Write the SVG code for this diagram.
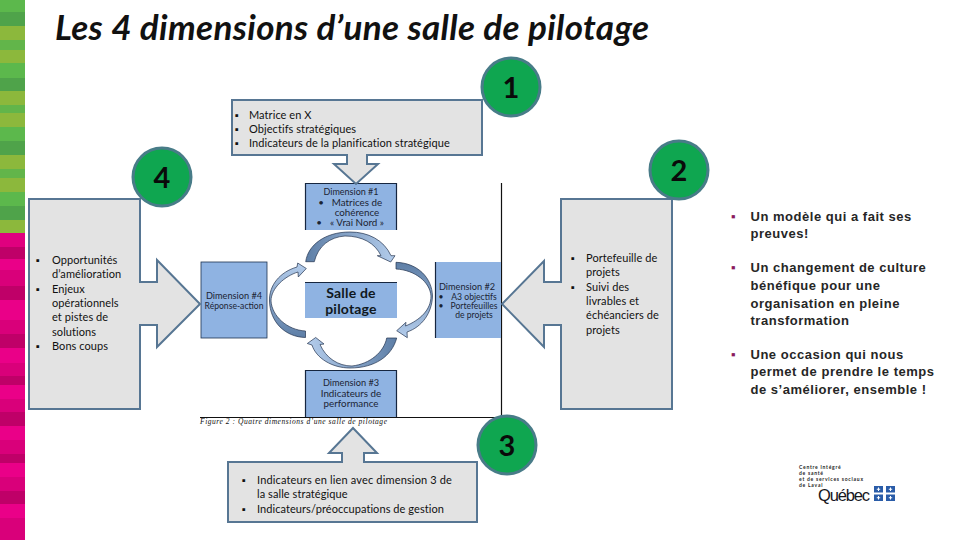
<svg xmlns="http://www.w3.org/2000/svg" width="960" height="540" viewBox="0 0 960 540">
<defs>
<linearGradient id="gTop" x1="0" y1="0" x2="1" y2="0"><stop offset="0" stop-color="#5d7ea6"/><stop offset="1" stop-color="#b4cdec"/></linearGradient>
<linearGradient id="gRight" x1="0" y1="0" x2="0" y2="1"><stop offset="0" stop-color="#5d7ea6"/><stop offset="1" stop-color="#b4cdec"/></linearGradient>
<linearGradient id="gBottom" x1="1" y1="0" x2="0" y2="0"><stop offset="0" stop-color="#5d7ea6"/><stop offset="1" stop-color="#b4cdec"/></linearGradient>
<linearGradient id="gLeft" x1="0" y1="1" x2="0" y2="0"><stop offset="0" stop-color="#5d7ea6"/><stop offset="1" stop-color="#b4cdec"/></linearGradient>
<clipPath id="clipDim1"><rect x="305" y="183" width="92" height="47"/></clipPath>
</defs>
<style>
text{font-family:"Lato","Open Sans","Liberation Sans",sans-serif;fill:#111}
.call{fill:#e3e3e3;stroke:#577693;stroke-width:2;stroke-linejoin:miter}
.t{font-size:11px;letter-spacing:.07px}
.b{font-family:"Liberation Sans",sans-serif;font-size:11px}
.badge{fill:#0fa650;stroke:#487c88;stroke-width:3}
.n{font-size:29px;font-weight:700;text-anchor:middle;fill:#0a0a0a}
.dim{fill:#8fb3e2}
.edge{stroke:#16263f;stroke-width:1.2;fill:none}
.d{font-size:9.8px;text-anchor:middle;fill:#1b2433}
.d2{font-size:8.6px;text-anchor:middle;fill:#1b2433}
.s{font-size:14px;font-weight:700;text-anchor:middle;fill:#101820;letter-spacing:.2px}
.arc{stroke:#24344f;stroke-width:.7}
.r{font-family:"Liberation Sans",sans-serif;font-size:13px;font-weight:700;fill:#262626;letter-spacing:.52px}
.rb{font-family:"Liberation Sans",sans-serif;font-size:13px;fill:#8a1a5e}
.lg{font-size:5px;font-weight:700;fill:#1c1c1c;letter-spacing:.75px}
.fl{fill:#2a5ca8}
.fw{fill:#fff}
</style>
<rect width="960" height="540" fill="#fff"/>
<g id="sidebar">
<rect x="0" y="0" width="25" height="12" fill="#5cb84c"/><rect x="0" y="12" width="25" height="14" fill="#4fa34a"/><rect x="0" y="26" width="25" height="14" fill="#8cb83c"/><rect x="0" y="40" width="25" height="10" fill="#62b54a"/><rect x="0" y="50" width="25" height="13" fill="#8cb83c"/><rect x="0" y="63" width="25" height="15" fill="#5cb84c"/><rect x="0" y="78" width="25" height="13" fill="#4fa34a"/><rect x="0" y="91" width="25" height="14" fill="#8cb83c"/><rect x="0" y="105" width="25" height="8" fill="#62b54a"/><rect x="0" y="113" width="25" height="14" fill="#8cb83c"/><rect x="0" y="127" width="25" height="14" fill="#5cb84c"/><rect x="0" y="141" width="25" height="14" fill="#4fa34a"/><rect x="0" y="155" width="25" height="14" fill="#8cb83c"/><rect x="0" y="169" width="25" height="9" fill="#62b54a"/><rect x="0" y="178" width="25" height="14" fill="#8cb83c"/><rect x="0" y="192" width="25" height="14" fill="#5cb84c"/><rect x="0" y="206" width="25" height="14" fill="#4fa34a"/><rect x="0" y="220" width="25" height="13" fill="#8cb83c"/>
<rect x="0" y="233" width="25" height="14" fill="#e0007f"/><rect x="0" y="247" width="25" height="12" fill="#bf0068"/><rect x="0" y="259" width="25" height="27" fill="#ea0088"/><rect x="0" y="270" width="25" height="16" fill="#d9007a"/><rect x="0" y="286" width="25" height="14" fill="#bf0068"/><rect x="0" y="300" width="25" height="20" fill="#ea0088"/><rect x="0" y="320" width="25" height="14" fill="#d9007a"/><rect x="0" y="334" width="25" height="14" fill="#bf0068"/><rect x="0" y="348" width="25" height="15" fill="#ea0088"/><rect x="0" y="363" width="25" height="13" fill="#d9007a"/><rect x="0" y="376" width="25" height="9" fill="#bf0068"/><rect x="0" y="385" width="25" height="14" fill="#ea0088"/><rect x="0" y="399" width="25" height="13" fill="#d9007a"/><rect x="0" y="412" width="25" height="14" fill="#bf0068"/><rect x="0" y="426" width="25" height="14" fill="#ea0088"/><rect x="0" y="440" width="25" height="14" fill="#d9007a"/><rect x="0" y="454" width="25" height="9" fill="#bf0068"/><rect x="0" y="463" width="25" height="14" fill="#ea0088"/><rect x="0" y="477" width="25" height="14" fill="#d9007a"/><rect x="0" y="491" width="25" height="13" fill="#bf0068"/><rect x="0" y="504" width="25" height="14" fill="#ea0088"/><rect x="0" y="518" width="25" height="22" fill="#d9007a"/>
</g>
<text id="title" x="55" y="40" font-size="35" font-style="italic" font-weight="700" textLength="594" lengthAdjust="spacing">Les 4 dimensions d’une salle de pilotage</text>

<g id="figure-frame"><path d="M501.5,183V417.5H200" fill="none" stroke="#111" stroke-width="1.2"/>
<text x="200" y="424" style="font-family:'Liberation Serif',serif;font-style:italic;font-size:7.5px" textLength="187">Figure 2 : Quatre dimensions d’une salle de pilotage</text></g>

<g id="dim1"><rect class="dim" x="305" y="183" width="92" height="47"/><path class="edge" d="M305.5,230V183.5H396.5V230" stroke-width="1.5"/>
<g clip-path="url(#clipDim1)"><text class="d2" x="351" y="195" style="font-size:9px">Dimension #1</text><text class="d" x="357" y="205.5">Matrices de</text><text class="d" x="321" y="205.5">•</text><text class="d" x="357" y="215.5">cohérence</text><text class="d" x="319" y="226">•</text><text class="d" x="357" y="226">« Vrai Nord »</text></g></g>
<g id="dim2"><rect class="dim" x="435" y="262" width="66" height="76"/><path class="edge" d="M435.5,262V338"/>
<text class="d2" x="467" y="290" style="font-size:9.2px">Dimension #2</text><text class="d2" x="441" y="299.5">•</text><text class="d2" x="474" y="299.5">A3 objectifs</text><text class="d2" x="441" y="309">•</text><text class="d2" x="474" y="309">Portefeuilles</text><text class="d2" x="474" y="318">de projets</text></g>
<g id="dim3"><rect class="dim" x="305" y="370" width="92" height="47"/><path class="edge" d="M305.5,417V370.5H396.5V417"/>
<text class="d2" x="351" y="386" style="font-size:9.2px">Dimension #3</text><text class="d" x="351" y="396.5">Indicateurs de</text><text class="d" x="351" y="407">performance</text></g>
<g id="dim4"><rect class="dim" x="201" y="262" width="66" height="76" stroke="#1d3350" stroke-width=".8"/>
<text class="d2" x="234" y="298.5" style="font-size:9.2px">Dimension #4</text><text class="d2" x="234" y="308.5">Réponse-action</text></g>
<g id="salle"><rect class="dim" x="305" y="282" width="92" height="36"/><path class="edge" d="M305,282.5H397" stroke-width=".8"/>
<text class="s" x="351" y="297.5">Salle de</text><text class="s" x="351" y="314">pilotage</text></g>

<g id="connectors">
<path class="arc" fill="url(#gTop)" d="M305.7,261.7C308,245 325,232 350,232C368,232 384,240 391,255.7L395,255.7L390.7,262L377.3,255.7L381,255.7C375,243 362,236 345,236C330,237 318,246 314.3,261.7Z"/>
<path class="arc" fill="url(#gRight)" d="M396,262.3C418,263 432,278 432.5,296C432,313 422,327 407,332L407.3,337.7L396.7,330.7L406,322.3L405.5,326C420,320 431,310 431,296C430,282 415,270 396,269Z"/>
<path class="arc" fill="url(#gBottom)" d="M396.7,338L386.7,338C384,352 370,364 352,366C338,366 326,358 320,344.5L324,344L315.7,337.5L307.3,343.5L312,345C316,358 332,368 350,368C375,368 392,356 396.7,338Z"/>
<path class="arc" fill="url(#gLeft)" d="M305.5,337.5C285,337 270,322 269.5,301C269,285 280,272 297,267L297.7,263L306.3,268.5L298.3,277L298,272C285,276 271,288 271,301C272,316 287,330 305.5,331Z"/>
</g>

<g id="callout1"><path class="call" d="M232,100H482V155H367V164H378L356,184L334,164H347V155H232Z"/>
<text class="b" x="235" y="119">▪</text><text class="t" x="249" y="119">Matrice en X</text>
<text class="b" x="235" y="133">▪</text><text class="t" x="249" y="133">Objectifs stratégiques</text>
<text class="b" x="235" y="147">▪</text><text class="t" x="249" y="147">Indicateurs de la planification stratégique</text></g>
<g id="callout4"><path class="call" d="M29,199H140V282H157V260L200,304L157,347V325H140V409H29Z"/>
<text class="b" x="36" y="264">▪</text><text class="t" x="52" y="264">Opportunités</text><text class="t" x="52" y="278">d’amélioration</text>
<text class="b" x="36" y="293">▪</text><text class="t" x="52" y="293">Enjeux</text><text class="t" x="52" y="307">opérationnels</text><text class="t" x="52" y="321">et pistes de</text><text class="t" x="52" y="336">solutions</text>
<text class="b" x="36" y="350">▪</text><text class="t" x="52" y="350">Bons coups</text></g>
<g id="callout2"><path class="call" d="M672,199H561V282H544V261L502,304L544,347V325H561V409H672Z"/>
<text class="b" x="571" y="262">▪</text><text class="t" x="586" y="262">Portefeuille de</text><text class="t" x="586" y="276">projets</text>
<text class="b" x="571" y="291">▪</text><text class="t" x="586" y="291">Suivi des</text><text class="t" x="586" y="305">livrables et</text><text class="t" x="586" y="319">échéanciers de</text><text class="t" x="586" y="334">projets</text></g>
<g id="callout3"><path class="call" d="M228,462H342V453H329L353,428L377,453H364V462H477V522H228Z"/>
<text class="b" x="242" y="484">▪</text><text class="t" x="257" y="484" textLength="195">Indicateurs en lien avec dimension 3  de</text><text class="t" x="257" y="498">la salle stratégique</text>
<text class="b" x="242" y="513">▪</text><text class="t" x="257" y="513">Indicateurs/préoccupations de gestion</text></g>

<g id="badge1"><circle class="badge" cx="511" cy="87" r="29"/><text class="n" x="511" y="98">1</text></g>
<g id="badge2"><circle class="badge" cx="679" cy="170" r="29"/><text class="n" x="679" y="181">2</text></g>
<g id="badge3"><circle class="badge" cx="507" cy="445" r="29"/><text class="n" x="507" y="456">3</text></g>
<g id="badge4"><circle class="badge" cx="162" cy="177" r="29"/><text class="n" x="162" y="188">4</text></g>

<g id="benefits">
<text class="rb" x="731" y="220.5">▪</text><text class="r" x="750.5" y="220.5">Un modèle qui a fait ses</text><text class="r" x="750.5" y="238">preuves!</text>
<text class="rb" x="731" y="271.5">▪</text><text class="r" x="750.5" y="271.5">Un changement de culture</text><text class="r" x="750.5" y="289.5">bénéfique pour une</text><text class="r" x="750.5" y="307.5">organisation en pleine</text><text class="r" x="750.5" y="324.5">transformation</text>
<text class="rb" x="731" y="358.5">▪</text><text class="r" x="750.5" y="358.5">Une occasion qui nous</text><text class="r" x="750.5" y="376">permet de prendre le temps</text><text class="r" x="750.5" y="393.5">de s’améliorer, ensemble !</text>
</g>

<g id="logo">
<text class="lg" x="799" y="469">Centre intégré</text><text class="lg" x="799" y="475">de santé</text><text class="lg" x="799" y="481">et de services sociaux</text><text class="lg" x="799" y="487">de Laval</text>
<text x="818" y="500.5" style="font-family:'Liberation Sans',sans-serif;font-size:16.5px;fill:#16161e" textLength="52">Québec</text>
<rect class="fl" x="874" y="486" width="9" height="6.5"/><rect class="fl" x="886" y="486" width="9" height="6.5"/><rect class="fl" x="874" y="494.5" width="9" height="6.5"/><rect class="fl" x="886" y="494.5" width="9" height="6.5"/>
<path class="fw" d="M878,487.5h1v1.2h1.2v1h-1.2v1.2h-1v-1.2h-1.2v-1h1.2zM890,487.5h1v1.2h1.2v1h-1.2v1.2h-1v-1.2h-1.2v-1h1.2zM878,496h1v1.2h1.2v1h-1.2v1.2h-1v-1.2h-1.2v-1h1.2zM890,496h1v1.2h1.2v1h-1.2v1.2h-1v-1.2h-1.2v-1h1.2z"/>
</g>
</svg>
